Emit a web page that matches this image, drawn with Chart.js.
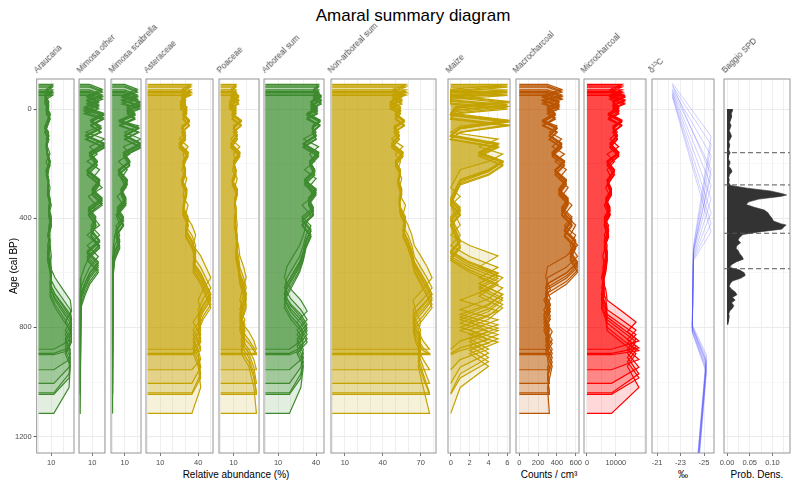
<!DOCTYPE html>
<html>
<head>
<meta charset="utf-8">
<script src="https://cdn.jsdelivr.net/npm/chart.js@4/dist/chart.umd.min.js"></script>
<style>
  body { margin: 0; background: #fff; width: 792px; height: 483px; overflow: hidden; position: relative;
         font-family: "Liberation Sans", Arial, sans-serif; }
  canvas { position: absolute; top: 0; }
  .strip { position: absolute; font-size: 8.3px; line-height: 1; color: #4d4d4d; white-space: nowrap;
           transform-origin: 0 100%; transform: rotate(-45deg); }
  .strip sup { font-size: 5.5px; vertical-align: 3px; }
  .axtitle { position: absolute; top: 470px; font-size: 10px; line-height: 1; color: #000; white-space: nowrap;
             transform: translateX(-50%); }
  #title { position: absolute; left: 413px; top: 7px; font-size: 17px; line-height: 1; transform: translateX(-50%); white-space: nowrap; }
</style>
</head>
<body>
<div id="title">Amaral summary diagram</div>
<div class="axtitle" style="left:236px">Relative abundance (%)</div>
<div class="axtitle" style="left:549px">Counts / cm³</div>
<div class="axtitle" style="left:683px">‰</div>
<div class="axtitle" style="left:757px">Prob. Dens.</div>

<script>
// age-depth model realisations (cal BP) for the same 32 samples
const ageModelA = [-60,-45,-30,-12,5,22,42,62,85,110,138,165,192,222,255,288,320,352,388,425,462,500,538,578,618,660,700,740,780,815,850,880];
const ageModelB = [-90,-72,-50,-28,-8,15,40,68,95,125,158,190,222,258,292,326,360,395,428,462,500,540,580,618,655,695,735,772,810,845,875,895];
const ageModelC = [-70,-52,-34,-16,4,24,48,72,98,128,160,192,225,262,300,338,375,410,446,485,525,565,602,640,678,715,752,790,826,858,885,900];
const ageModelD = [-50,-35,-18,0,18,38,62,86,110,138,166,196,228,262,296,330,366,402,440,480,520,560,600,640,680,720,762,802,842,880,918,955];
const ageModelE = [-80,-62,-42,-22,-2,20,45,72,100,132,164,196,228,262,298,334,372,410,448,488,530,572,612,652,692,732,772,812,852,894,946,1005];
const ageModelF = [-65,-48,-30,-10,10,32,58,84,110,140,172,204,238,274,310,346,384,422,460,500,540,580,620,660,700,742,784,826,868,910,970,1040];
const ageModelG = [-55,-40,-22,-4,15,36,60,85,112,142,174,208,242,278,315,352,390,428,466,506,548,590,632,674,716,758,800,842,884,926,985,1045];
const ageModelH = [-85,-66,-46,-25,-4,18,44,70,98,128,160,194,230,268,306,346,386,426,468,510,554,598,642,686,728,770,812,854,896,942,1020,1115];
const ageModels = [ageModelA, ageModelB, ageModelC, ageModelD, ageModelE, ageModelF, ageModelG, ageModelH];

// proxy values per sample
const araucaria       = [11,6,5,8,6,9,7,5,8,6,7,9,6,8,7,9,8,10,8,9,7,9,10,9,13,19,25,26,21,25,24,12];
const mimosaOther     = [8,18,6,15,4,19,9,17,5,20,8,14,6,16,10,18,7,13,9,16,6,15,8,4,1,0.5,0.5,0.3,0.5,0.3,0.5,0.3];
const mimosaScabrella = [10,20,8,22,12,18,6,21,10,23,9,14,5,12,7,11,4,9,3,6,2,1,0.5,0.3,0.3,0.3,0.3,0.3,0.3,0.3,0.3,0.3];
const asteraceae      = [34,27,30,26,31,28,33,27,30,25,32,28,30,27,31,29,28,32,30,35,38,36,42,46,50,44,40,42,36,40,42,35];
const poaceae         = [12,8,14,7,12,9,16,10,13,8,15,10,12,9,13,11,12,11,12,13,12,14,15,18,20,17,15,19,16,22,26,28];
const arborealSum     = [42,38,44,36,41,33,43,37,40,30,42,35,39,31,40,34,38,29,36,32,30,27,22,17,15,20,28,33,25,30,28,19];
const nonArborealSum  = [58,48,55,46,54,50,57,49,53,47,56,50,54,52,55,53,54,58,56,60,63,65,70,75,79,72,64,66,70,68,72,77];
const maize           = [6,0,0,6,0.5,0,6,1,0,5,3,5.5,4,1,0.5,0,1,0,0.5,1,0,2,5,3,5.5,4,1,5,2,4,1,0];
const macroCharcoal   = [300,450,250,420,300,380,250,400,320,450,350,480,380,500,420,520,450,560,480,600,540,620,500,300,280,330,260,320,280,350,300,320];
const microCharcoal   = [12000,8000,13000,9000,11000,7500,12000,9000,10500,8000,11000,7000,9500,7000,8500,6500,8000,6000,7500,6000,7000,6500,5500,6000,5000,6500,7000,12000,17000,14000,18000,8500];

// delta 13C (permil), 6 samples, 10 age realisations
const d13cValues = [-22.3, -25.6, -24.1, -24.0, -25.2, -24.4];
const d13cAgeModels = [
  [-95, 100, 500, 790, 900, 1300],
  [-85, 130, 510, 795, 910, 1310],
  [-75, 170, 520, 800, 920, 1320],
  [-70, 220, 525, 800, 930, 1330],
  [-65, 280, 530, 805, 935, 1340],
  [-60, 330, 540, 810, 945, 1350],
  [-55, 380, 545, 815, 950, 1360],
  [-50, 420, 550, 815, 960, 1370],
  [-45, 450, 555, 820, 965, 1380],
  [-90, 240, 515, 798, 925, 1325]
];

// Baggio summed probability distribution
const spdAge = [0,10,20,30,40,50,60,70,80,90,100,110,120,130,140,150,160,170,180,190,200,210,220,230,240,250,260,270,280,
  290,300,310,315,320,330,340,350,360,370,380,390,400,410,420,425,430,440,450,
  460,470,480,490,500,510,520,530,540,550,560,570,580,590,600,610,620,630,640,650,660,670,680,690,700,710,720,730,740,750,760,770,780,790];
const spdDensity = [0.012,0.011,0.009,0.010,0.008,0.006,0.009,0.007,0.005,0.008,0.010,0.007,0.004,0.006,0.005,0.004,0.007,0.004,0.003,0.005,0.006,0.004,0.009,0.011,0.006,0.004,0.005,0.004,0.008,
  0.045,0.095,0.122,0.131,0.118,0.070,0.048,0.042,0.060,0.082,0.090,0.094,0.099,0.102,0.118,0.130,0.126,0.120,0.070,
  0.035,0.028,0.024,0.030,0.022,0.020,0.025,0.028,0.033,0.036,0.020,0.010,0.006,0.028,0.038,0.040,0.030,0.012,0.007,0.005,0.010,0.018,0.022,0.012,0.018,0.010,0.015,0.012,0.006,0.004,0.005,0.004,0.003,0.002];
const spdPhaseAges = [160, 278, 455, 585];

// grid positions and tick labels
const ageGrid = [0, 200, 400, 600, 800, 1000, 1200];
const ageTickLabels = [0, 400, 800, 1200];
const relGrid = [0, 10, 20, 30, 40, 50, 60, 70, 80];
const relTickLabels = [10, 40, 70];
const maizeGrid = [0, 1, 2, 3, 4, 5, 6];
const maizeTickLabels = [0, 2, 4, 6];
const macroGrid = [0, 100, 200, 300, 400, 500, 600];
const macroTickLabels = [0, 200, 400, 600];
const microGrid = [0, 5000, 10000, 15000, 20000];
const microTickLabels = [0, 10000];
const d13cGrid = [-25, -24, -23, -22, -21];
const d13cTickLabels = [-21, -23, -25];
const spdGrid = [0, 0.025, 0.05, 0.075, 0.1, 0.125];
const spdTickLabels = [0, 0.05, 0.1];

Chart.defaults.font.family = '"Liberation Sans", Arial, sans-serif';

const GREEN = [63, 138, 46];
const GOLD = [196, 163, 0];
const BROWN = [186, 84, 0];
const RED = [255, 0, 0];
const rgba = (c, a) => `rgba(${c[0]},${c[1]},${c[2]},${a})`;

const framePlugin = {
  id: 'frame',
  afterDraw(chart) {
    const { ctx, chartArea: a } = chart;
    ctx.save();
    ctx.strokeStyle = '#969696';
    ctx.lineWidth = 1;
    ctx.strokeRect(a.left, a.top, a.right - a.left, a.bottom - a.top);
    ctx.restore();
  }
};

const phasePlugin = {
  id: 'phases',
  afterDatasetsDraw(chart) {
    const { ctx, chartArea: a, scales: { y } } = chart;
    ctx.save();
    ctx.strokeStyle = '#555';
    ctx.lineWidth = 1;
    ctx.setLineDash([5, 3]);
    spdPhaseAges.forEach(age => {
      const py = y.getPixelForValue(age);
      ctx.beginPath();
      ctx.moveTo(a.left, py);
      ctx.lineTo(a.right, py);
      ctx.stroke();
    });
    ctx.restore();
  }
};

function ensemble(values, col) {
  return ageModels.map(ages => ({
    data: [{ x: 0, y: ages[0] }]
      .concat(values.map((v, i) => ({ x: v, y: ages[i] })))
      .concat([{ x: 0, y: ages[ages.length - 1] }]),
    borderColor: rgba(col, 1),
    backgroundColor: rgba(col, 0.15),
    borderWidth: 1.2,
    fill: 'origin'
  }));
}

const isLab = (list, v) => list.some(l => Math.abs(l - v) < 1e-9);
// fixed tick positions (Chart.js stepSize can snap to evenly spaced ticks)
const fixTicks = grid => s => {
  const lo = Math.min(s.min, s.max), hi = Math.max(s.min, s.max);
  s.ticks = grid.filter(v => v >= lo && v <= hi).map(v => ({ value: v }));
};

function makePanel(p) {
  const padL = p.first ? 0 : 8, padR = 8;
  const left = p.first ? 0 : p.left - padL;
  const w = Math.round(p.right + padR - left);
  const c = document.createElement('canvas');
  c.width = w; c.height = 483;
  c.style.left = left + 'px';
  c.style.width = w + 'px'; c.style.height = '483px';
  document.body.appendChild(c);

  const yGrid = {
    color: ctx => ctx.tick.value % 400 === 0 ? '#ebebeb' : '#f3f3f3',
    lineWidth: ctx => ctx.tick.value % 400 === 0 ? 1 : 0.6,
    drawTicks: !!p.first, tickLength: 3,
    tickColor: ctx => isLab(ageTickLabels, ctx.tick.value) ? '#555' : 'rgba(0,0,0,0)'
  };

  new Chart(c, {
    type: 'line',
    data: { datasets: p.datasets },
    options: {
      responsive: false,
      animation: false,
      devicePixelRatio: 1,
      indexAxis: 'y',
      layout: { padding: { top: 79, bottom: 0, left: padL, right: padR } },
      elements: { point: { radius: 0 }, line: { tension: 0 } },
      plugins: { legend: { display: false }, tooltip: { enabled: false } },
      scales: {
        x: {
          type: 'linear', position: 'bottom', min: p.min, max: p.max, reverse: !!p.reverse,
          afterBuildTicks: fixTicks(p.grid),
          afterFit: s => { s.height = 30; },
          border: { display: false },
          grid: {
            color: '#ebebeb', lineWidth: 0.8, drawTicks: true, tickLength: 3,
            tickColor: ctx => isLab(p.labels, ctx.tick.value) ? '#555' : 'rgba(0,0,0,0)'
          },
          ticks: {
            autoSkip: false, maxRotation: 0, minRotation: 0,
            padding: 2, color: '#4d4d4d', font: { size: 7.5 },
            callback: v => isLab(p.labels, v) ? (p.fmt ? p.fmt(v) : String(v)) : ''
          }
        },
        y: {
          type: 'linear', position: 'left', min: -110, max: 1260, reverse: true,
          afterBuildTicks: fixTicks(ageGrid),
          afterFit: s => { s.width = p.first ? p.left : 0; },
          border: { display: false },
          grid: yGrid,
          ticks: {
            display: !!p.first, autoSkip: false,
            padding: 2, color: '#4d4d4d', font: { size: 7.5 },
            callback: v => isLab(ageTickLabels, v) ? String(v) : ''
          },
          title: { display: !!p.first, text: 'Age (cal BP)', color: '#000', font: { size: 10 }, padding: { top: 8, bottom: 0 } }
        }
      }
    },
    plugins: [framePlugin].concat(p.extraPlugins || [])
  });

  const lab = document.createElement('div');
  lab.className = 'strip';
  lab.innerHTML = p.label;
  lab.style.left = (p.left + 1.5) + 'px';
  lab.style.top = '65.5px';
  document.body.appendChild(lab);
}

const d13cDatasets = d13cAgeModels.map(ages => ({
  data: d13cValues.map((v, i) => ({ x: v, y: ages[i] })),
  borderColor: 'rgba(80,80,255,0.3)',
  borderWidth: 0.9,
  fill: false
}));

const spdDatasets = [{
  data: spdAge.map((a, i) => ({ x: spdDensity[i], y: a })),
  borderColor: '#333',
  backgroundColor: '#333',
  borderWidth: 0.6,
  fill: 'origin'
}];

const panels = [
  { label: 'Araucaria', first: true, left: 36.7, right: 74, min: -1.5, max: 27.9, grid: relGrid, labels: relTickLabels, datasets: ensemble(araucaria, GREEN) },
  { label: 'Mimosa other', left: 79.3, right: 105.7, min: -0.55, max: 20.3, grid: relGrid, labels: relTickLabels, datasets: ensemble(mimosaOther, GREEN) },
  { label: 'Mimosa scabrella', left: 111.3, right: 141.7, min: -1.0, max: 23.0, grid: relGrid, labels: relTickLabels, datasets: ensemble(mimosaScabrella, GREEN) },
  { label: 'Asteraceae', left: 146.3, right: 213.7, min: -1.3, max: 51.7, grid: relGrid, labels: relTickLabels, datasets: ensemble(asteraceae, GOLD) },
  { label: 'Poaceae', left: 219, right: 258.7, min: -1.3, max: 30.0, grid: relGrid, labels: relTickLabels, datasets: ensemble(poaceae, GOLD) },
  { label: 'Arboreal sum', left: 264.3, right: 324.3, min: -1.1, max: 46.3, grid: relGrid, labels: relTickLabels, datasets: ensemble(arborealSum, GREEN) },
  { label: 'Non-arboreal sum', left: 330.5, right: 435.7, min: -0.95, max: 82.1, grid: relGrid, labels: relTickLabels, datasets: ensemble(nonArborealSum, GOLD) },
  { label: 'Maize', left: 448.3, right: 510.3, min: -0.29, max: 6.27, grid: maizeGrid, labels: maizeTickLabels, datasets: ensemble(maize, GOLD) },
  { label: 'Macrocharcoal', left: 515.7, right: 578.3, min: -35.4, max: 635, grid: macroGrid, labels: macroTickLabels, datasets: ensemble(macroCharcoal, BROWN) },
  { label: 'Microcharcoal', left: 583.7, right: 646, min: -1034, max: 20448, grid: microGrid, labels: microTickLabels, datasets: ensemble(microCharcoal, RED) },
  { label: 'δ<sup>13</sup>C', left: 651.7, right: 713.7, min: -25.85, max: -20.57, reverse: true, grid: d13cGrid, labels: d13cTickLabels, datasets: d13cDatasets },
  { label: 'Baggio SPD', left: 724, right: 790, min: -0.0066, max: 0.1385, grid: spdGrid, labels: spdTickLabels, fmt: v => v.toFixed(2), datasets: spdDatasets, extraPlugins: [phasePlugin] }
];

panels.forEach(makePanel);
</script>
</body>
</html>
